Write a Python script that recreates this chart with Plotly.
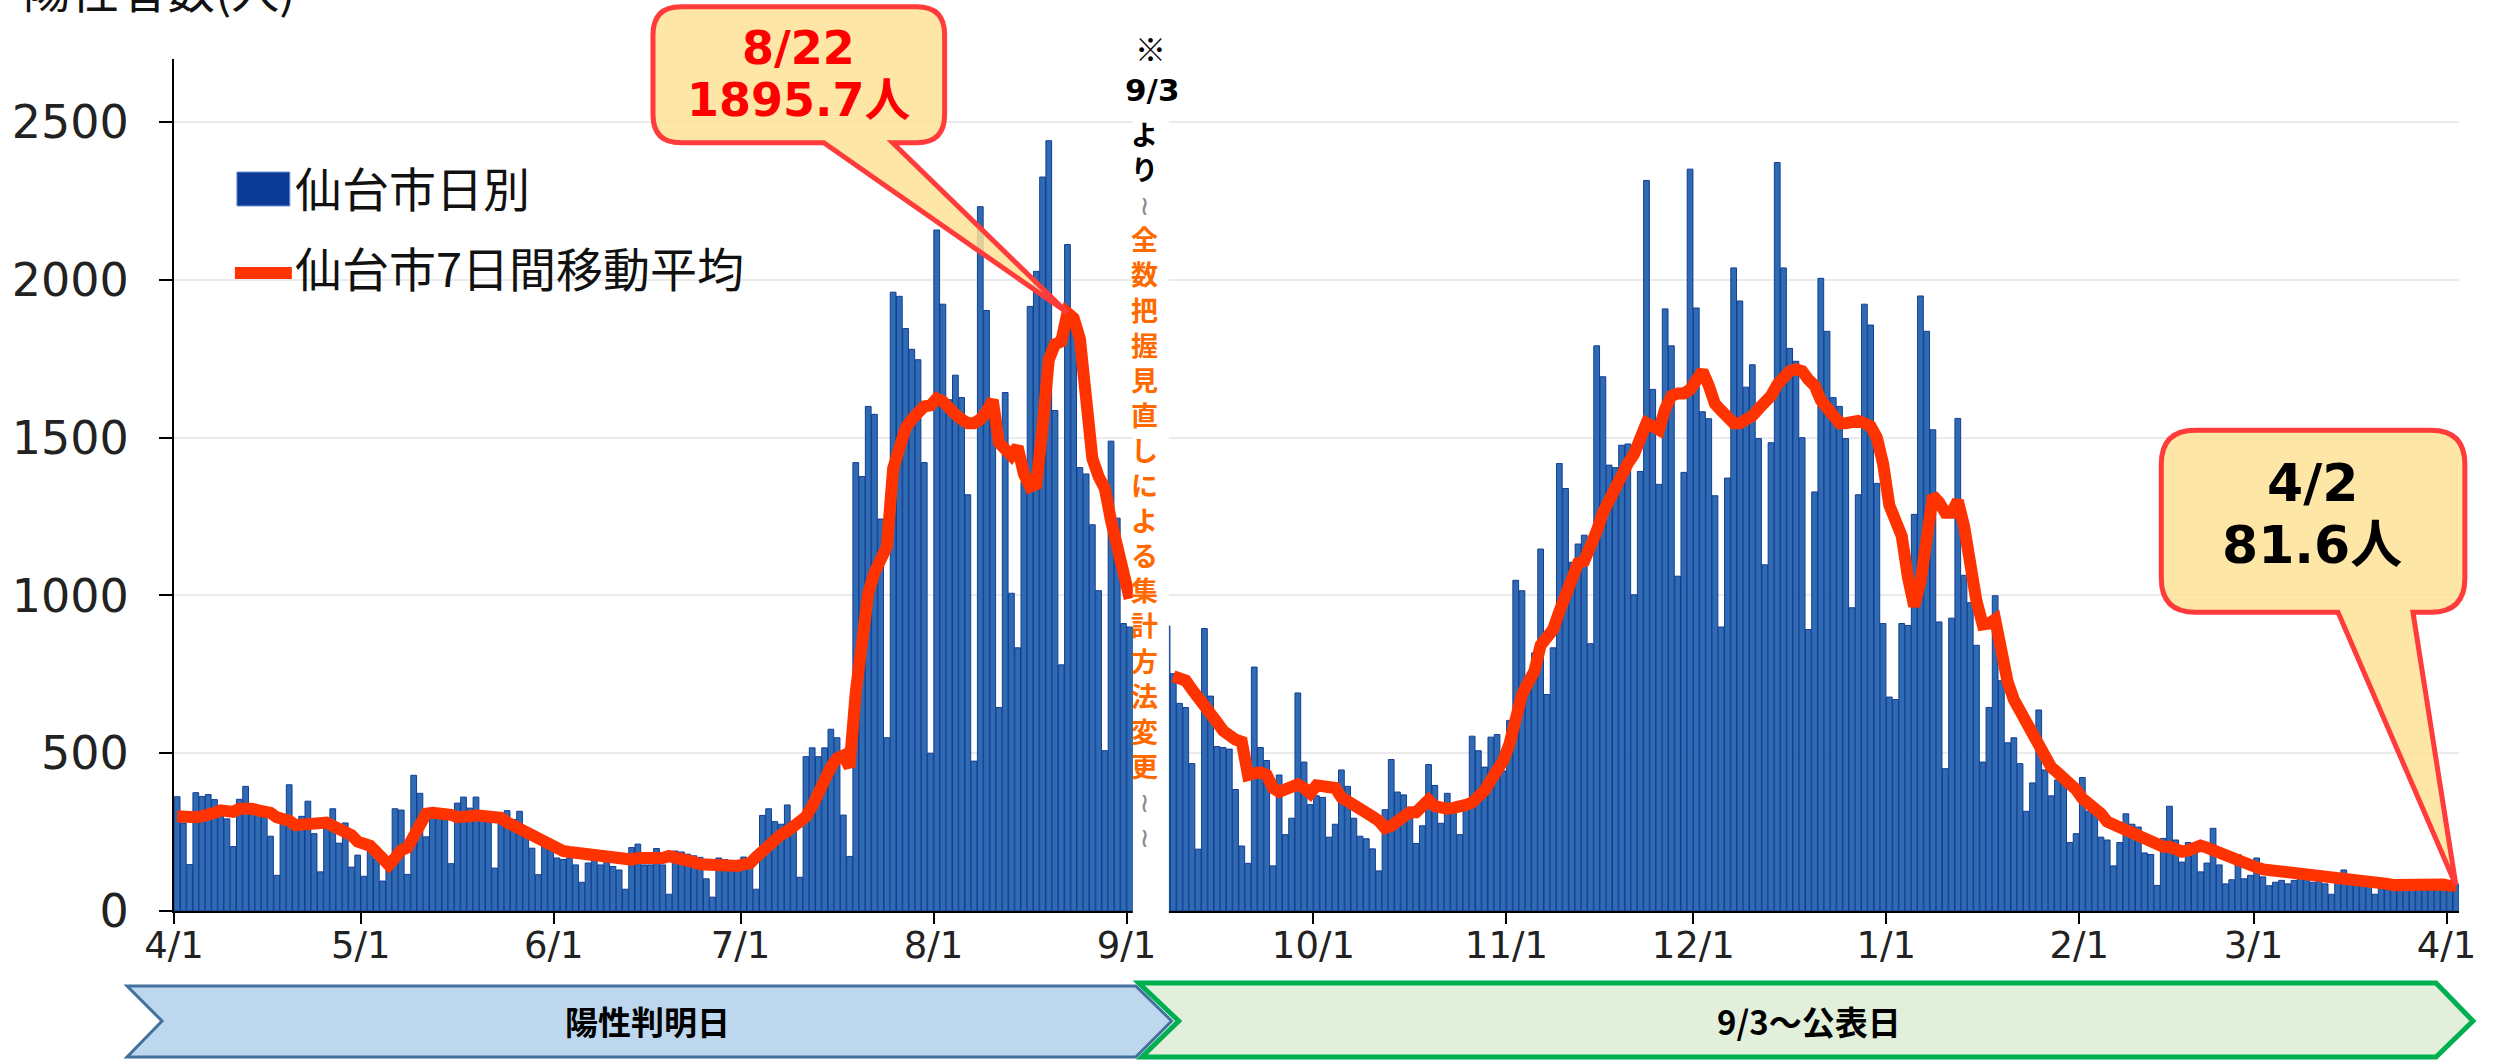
import pandas as pd
import plotly.graph_objects as go

# ---------------- data ----------------
left_start = "2022-04-01"          # 陽性判明日 basis (4/1 .. 9/1)
left_daily = [
    362, 279, 147, 375, 363, 369, 353, 300, 292, 204, 354, 395, 320, 312, 298, 237, 113, 305, 400, 275,
    300, 348, 245, 124, 283, 324, 215, 279, 139, 177,
    110, 196, 165, 95, 145, 324, 320, 116, 430, 373, 235, 303, 294, 291, 150, 342, 361, 326, 361, 305,
    300, 136, 300, 318, 290, 316, 256, 199, 115, 209, 207,
    168, 163, 168, 146, 91, 152, 193, 146, 187, 141, 130, 69, 201, 212, 146, 146, 198, 146, 53, 190,
    187, 180, 175, 170, 102, 44, 168, 163, 155, 160,
    171, 160, 69, 303, 324, 283, 275, 336, 275, 107, 489, 517, 489, 517, 576, 549, 304, 173, 1421, 1377,
    1599, 1574, 1242, 549, 1961, 1948, 1846, 1780, 1747, 1421, 500,
    2158, 1923, 1620, 1698, 1627, 1319, 475, 2232, 1903, 1620, 645, 1643, 1007, 834, 1360, 1916, 2027, 2326, 2441, 1586,
    780, 2112, 1870, 1405, 1385, 1224, 1015, 508, 1489, 1245, 911,
    900,
]
left_ma = [
    300, 297, 295, 297, 300, 303, 311, 319, 316, 314, 324, 327, 324, 319, 316, 311, 297, 295, 286, 272,
    272, 278, 281, 281, 280, 270, 259, 256, 240, 220,
    212, 207, 187, 163, 146, 168, 193, 201, 240, 272, 308, 311, 311, 314, 305, 297, 295, 300, 303, 303,
    303, 303, 295, 281, 270, 264, 256, 245, 234, 220, 207,
    196, 190, 187, 185, 179, 176, 174, 170, 168, 168, 165, 160, 163, 168, 168, 165, 163, 168, 174, 171,
    165, 164, 155, 148, 146, 145, 141, 140, 140, 143,
    148, 151, 171, 192, 209, 230, 242, 253, 266, 275, 299, 332, 365, 415, 456, 484, 493, 456, 694, 892,
    1007, 1072, 1114, 1155, 1402, 1484, 1530, 1558, 1579, 1599, 1602,
    1624, 1615, 1587, 1574, 1558, 1546, 1546, 1558, 1582, 1619, 1484, 1459, 1443, 1471, 1385, 1344, 1352, 1533, 1747, 1796,
    1805, 1895.7, 1879, 1813, 1632, 1434, 1377, 1339, 1237, 1147, 1081,
    990,
]

right_bar_start = "2022-09-07"     # 公表日 basis (from 9/3; visible from 9/7)
right_daily = [
    903, 752, 658, 645, 467, 196, 895, 681, 521, 518, 513, 385, 206, 151, 773, 518, 477, 143, 431, 242,
    294, 691, 472, 337,
    365, 360, 234, 275, 447, 395, 294, 237, 229, 197, 127, 321, 480, 377, 368, 313, 214, 270, 464, 398,
    278, 373, 340, 242, 324, 554, 508, 456, 551, 559, 444,
    604, 1048, 1015, 735, 818, 1147, 686, 834, 1418, 1339, 1105, 1163, 1191, 847, 1791, 1693, 1413, 1405, 1476, 1480,
    1002, 1393, 2315, 1653, 1352, 1908, 1791, 1061, 1390, 2351,
    1911, 1582, 1560, 1316, 900, 1372, 2038, 1933, 1660, 1731, 1497, 1097, 1484, 2372, 2038, 1783, 1742, 1500, 892, 1328,
    2005, 1837, 1627, 1599, 1497, 961, 1319, 1923, 1857, 1355, 911,
    678, 670, 911, 905, 1257, 1949, 1837, 1525, 916, 451, 928, 1561, 1064, 977, 842, 472, 645, 999, 730, 533,
    549, 467, 316, 406, 637, 447, 365, 415, 406, 217, 245,
    423, 316, 308, 234, 225, 143, 217, 308, 275, 266, 184, 179, 81, 230, 332, 225, 155, 217, 212, 124,
    152, 262, 146, 86, 99, 179, 102, 113,
    168, 108, 80, 91, 97, 86, 97, 119, 102, 91, 97, 86, 53, 97, 130, 108, 86, 88, 77, 53,
    80, 69, 75, 91, 88, 80, 77, 86, 97, 88, 75,
    75, 86,
]
right_ma_start = "2022-09-08"
right_ma = [
    744, 739, 730, 702, 678, 658, 628, 599, 571, 554, 543, 536, 431, 436, 439, 431, 390, 378, 388, 401,
    401, 390, 373,
    398, 395, 395, 390, 360, 349, 341, 329, 313, 299, 286, 263, 270, 283, 299, 313, 313, 336, 352, 332,
    324, 324, 327, 329, 336, 344, 360, 382, 415, 447, 477,
    530, 620, 686, 724, 760, 842, 867, 892, 949, 1007, 1073, 1102, 1109, 1147, 1204, 1262, 1303, 1352, 1393, 1418,
    1448, 1500, 1546, 1536, 1525, 1591, 1632, 1640, 1640, 1652,
    1689, 1711, 1665, 1607, 1586, 1569, 1546, 1546, 1556, 1569, 1591, 1612, 1632, 1668, 1693, 1711, 1717, 1711, 1684, 1665,
    1619, 1591, 1569, 1546, 1546, 1553, 1553, 1546, 1536, 1500, 1418,
    1286, 1237, 1188, 1056, 966, 1043, 1221, 1316, 1295, 1262, 1262, 1300, 1221, 1089, 982, 908, 911, 924, 801, 727,
    670, 632, 604, 571, 513, 477, 456, 439, 423, 406, 385,
    357, 341, 329, 308, 283, 275, 263, 253, 245, 242, 225, 217, 209, 204, 204, 197, 188, 192, 201, 207,
    201, 193, 179, 168, 163, 159, 154, 146,
    138, 132, 130, 130, 127, 124, 119, 115, 112, 110, 108, 106, 106, 104, 104, 102, 100, 99, 99, 97,
    91, 86, 82, 82, 84, 86, 88, 89, 91, 88, 84,
    80, 81.6,
]

tick_dates = ["2022-04-01", "2022-05-01", "2022-06-01", "2022-07-01", "2022-08-01", "2022-09-01",
              "2022-10-01", "2022-11-01", "2022-12-01", "2023-01-01", "2023-02-01", "2023-03-01", "2023-04-01"]
tick_labels = ["4/1", "5/1", "6/1", "7/1", "8/1", "9/1", "10/1", "11/1", "12/1", "1/1", "2/1", "3/1", "4/1"]
y_ticks = [0, 500, 1000, 1500, 2000, 2500]

legend_bar = "仙台市日別"
legend_line = "仙台市7日間移動平均"
y_title = "陽性者数(人)"
note_mark = "※"
note_date = "9/3"
note_yori = "より"
note_body = "全数把握見直しによる集計方法変更"
band_left = "陽性判明日"
band_right = "9/3～公表日"

# ---------------- helpers ----------------
X_START = pd.Timestamp("2022-04-01")
X_END = pd.Timestamp("2023-04-03")
Y_MAX = 2700
FIG_W, FIG_H = 2497, 1060
M_L, M_R, M_T, M_B = 171, 38, 59, 149
PW = FIG_W - M_L - M_R
PH = FIG_H - M_T - M_B
HALF_DAY = pd.Timedelta(hours=12)


def days(start, n):
    return pd.date_range(start, periods=n, freq="D")


def xfrac(ts):
    return (ts - X_START) / (X_END - X_START)


def PX(x):
    return (x - M_L) / PW


def PY(y):
    return (FIG_H - M_B - y) / PH


lb_dates = days(left_start, len(left_daily))
rb_dates = days(right_bar_start, len(right_daily))
lm_dates = days(left_start, len(left_ma))
rm_dates = days(right_ma_start, len(right_ma))

BAR_COLOR = "#2E6BB3"
BAR_EDGE = "#143C93"
LINE_COLOR = "#FF3300"

fig = go.Figure()
fig.add_trace(go.Bar(x=list(lb_dates + HALF_DAY), y=left_daily, marker=dict(color=BAR_COLOR, line=dict(color=BAR_EDGE, width=1))))
fig.add_trace(go.Bar(x=list(rb_dates + HALF_DAY), y=right_daily, marker=dict(color=BAR_COLOR, line=dict(color=BAR_EDGE, width=1))))
fig.add_trace(go.Scatter(x=list(lm_dates + HALF_DAY), y=left_ma, mode="lines", line=dict(color=LINE_COLOR, width=12)))
fig.add_trace(go.Scatter(x=list(rm_dates + HALF_DAY), y=right_ma, mode="lines", line=dict(color=LINE_COLOR, width=12)))

shapes = []
annotations = []

# white strip hiding the switch-over gap
gap_x0 = xfrac(pd.Timestamp("2022-09-02"))
gap_x1 = xfrac(pd.Timestamp("2022-09-07T19:00"))
shapes.append(dict(type="rect", xref="paper", yref="paper", x0=gap_x0, x1=gap_x1, y0=-0.006, y1=1.0,
                   fillcolor="white", line=dict(width=0), layer="above"))

# legend (drawn manually)
shapes.append(dict(type="rect", xref="paper", yref="paper", x0=PX(234), x1=PX(287), y0=PY(206), y1=PY(172),
                   fillcolor="#0A3A96", line=dict(color="#6F95D6", width=1), layer="above"))
shapes.append(dict(type="line", xref="paper", yref="paper", x0=PX(232), x1=PX(289), y0=PY(273), y1=PY(273),
                   line=dict(color=LINE_COLOR, width=12), layer="above"))
annotations.append(dict(xref="paper", yref="paper", x=PX(290), y=PY(186), xanchor="left", yanchor="middle",
                        text=legend_bar, showarrow=False,
                        font=dict(family="Noto Sans CJK JP", size=47, color="#111111")))
annotations.append(dict(xref="paper", yref="paper", x=PX(290), y=PY(266), xanchor="left", yanchor="middle",
                        text=legend_line, showarrow=False,
                        font=dict(family="Noto Sans CJK JP", size=47, color="#111111")))

# y-axis title (cut by the top edge as in the reference)
annotations.append(dict(xref="paper", yref="paper", x=PX(18), y=PY(-13), xanchor="left", yanchor="middle",
                        text=y_title, showarrow=False,
                        font=dict(family="Noto Sans CJK JP", size=48, color="#111111")))


def callout(tx, ty, left, right, top, bottom, t1, t2, r):
    def P(dx, dy):
        return f"{tx + dx / PW:.6f},{ty + dy / PH:.6f}"
    return (f"M {P(left + r, top)} L {P(right - r, top)} Q {P(right, top)} {P(right, top - r)} "
            f"L {P(right, bottom + r)} Q {P(right, bottom)} {P(right - r, bottom)} "
            f"L {P(t2, bottom)} L {P(0, 0)} L {P(t1, bottom)} "
            f"L {P(left + r, bottom)} Q {P(left, bottom)} {P(left, bottom + r)} "
            f"L {P(left, top - r)} Q {P(left, top)} {P(left + r, top)} Z")


CALLOUT_FILL = "rgba(253,226,150,0.85)"
CALLOUT_EDGE = "#FF3B3B"

# peak callout (8/22)
pk = max(range(len(left_ma)), key=lambda i: left_ma[i])
pk_x = xfrac(lm_dates[pk] + HALF_DAY)
pk_y = left_ma[pk] / Y_MAX
shapes.append(dict(type="path", xref="paper", yref="paper",
                   path=callout(pk_x, pk_y, -415, -123, 306, 170, -244, -175, 28),
                   fillcolor=CALLOUT_FILL, line=dict(color=CALLOUT_EDGE, width=5), layer="above"))
pk_date = lm_dates[pk]
annotations.append(dict(xref="paper", yref="paper", x=pk_x - 269 / PW, y=pk_y + 265 / PH,
                        text=f"<b>{pk_date.month}/{pk_date.day}</b>", showarrow=False, xanchor="center", yanchor="middle",
                        font=dict(family="DejaVu Sans, Noto Sans CJK JP", size=46, color="#FF0000")))
annotations.append(dict(xref="paper", yref="paper", x=pk_x - 269 / PW, y=pk_y + 213 / PH,
                        text=f"<b>{left_ma[pk]:.1f}人</b>", showarrow=False, xanchor="center", yanchor="middle",
                        font=dict(family="DejaVu Sans, Noto Sans CJK JP", size=46, color="#FF0000")))

# latest callout (4/2)
ls_x = xfrac(rm_dates[-1] + HALF_DAY)
ls_y = right_ma[-1] / Y_MAX
shapes.append(dict(type="path", xref="paper", yref="paper",
                   path=callout(ls_x, ls_y, -295, 9, 455, 273, -118, -43, 34),
                   fillcolor=CALLOUT_FILL, line=dict(color=CALLOUT_EDGE, width=5), layer="above"))
ls_date = rm_dates[-1]
annotations.append(dict(xref="paper", yref="paper", x=ls_x - 144 / PW, y=ls_y + 402 / PH,
                        text=f"<b>{ls_date.month}/{ls_date.day}</b>", showarrow=False, xanchor="center", yanchor="middle",
                        font=dict(family="DejaVu Sans, Noto Sans CJK JP", size=52, color="#000000")))
annotations.append(dict(xref="paper", yref="paper", x=ls_x - 144 / PW, y=ls_y + 340 / PH,
                        text=f"<b>{right_ma[-1]:.1f}人</b>", showarrow=False, xanchor="center", yanchor="middle",
                        font=dict(family="DejaVu Sans, Noto Sans CJK JP", size=52, color="#000000")))

# vertical note in the gap
annotations.append(dict(xref="paper", yref="paper", x=PX(1149), y=PY(47), text=note_mark, showarrow=False,
                        xanchor="center", yanchor="middle",
                        font=dict(family="Noto Sans CJK JP", size=31, color="#000000")))
annotations.append(dict(xref="paper", yref="paper", x=PX(1150), y=PY(90), text=f"<b>{note_date}</b>", showarrow=False,
                        xanchor="center", yanchor="middle",
                        font=dict(family="DejaVu Sans", size=31, color="#000000")))
WAVE = "<span style='color:#8a8a8a'>≀</span>"
note_lines = [f"<span style='color:#000000'><b>{c}</b></span>" for c in note_yori] + [WAVE]
note_lines += [f"<b>{c}</b>" for c in note_body] + [WAVE, WAVE]
NOTE_SIZE = 27
n_lines = len(note_lines)
first_center = 133
block_center = first_center + (n_lines - 1) * NOTE_SIZE * 1.3 / 2
annotations.append(dict(xref="paper", yref="paper", x=PX(1143), y=PY(block_center), text="<br>".join(note_lines),
                        showarrow=False, xanchor="center", yanchor="middle", align="center",
                        font=dict(family="Noto Sans CJK JP, DejaVu Sans", size=NOTE_SIZE, color="#FF6A00")))

# bottom period bands (chevrons)
def poly(points):
    return "M " + " L ".join(f"{PX(x):.6f},{PY(y):.6f}" for x, y in points) + " Z"


shapes.append(dict(type="path", xref="paper", yref="paper",
                   path=poly([(1137, 983), (2436, 983), (2473, 1021), (2436, 1057), (1140, 1057), (1177, 1021)]),
                   fillcolor="#E2EFDA", line=dict(color="#00B050", width=5), layer="above"))
shapes.append(dict(type="path", xref="paper", yref="paper",
                   path=poly([(124, 986), (1134, 986), (1170, 1021), (1134, 1057), (124, 1057), (159, 1021)]),
                   fillcolor="#BDD7EE", line=dict(color="#41719C", width=3), layer="above"))
annotations.append(dict(xref="paper", yref="paper", x=PX(645), y=PY(1021), text=f"<b>{band_left}</b>",
                        showarrow=False, xanchor="center", yanchor="middle",
                        font=dict(family="Noto Sans CJK JP", size=33, color="#000000")))
annotations.append(dict(xref="paper", yref="paper", x=PX(1808), y=PY(1021), text=f"<b>{band_right}</b>",
                        showarrow=False, xanchor="center", yanchor="middle",
                        font=dict(family="Noto Sans CJK JP", size=33, color="#000000")))

fig.update_layout(
    width=FIG_W, height=FIG_H,
    margin=dict(l=M_L, r=M_R, t=M_T, b=M_B, pad=0),
    plot_bgcolor="white", paper_bgcolor="white",
    showlegend=False, bargap=0.08, barmode="overlay",
    shapes=shapes, annotations=annotations,
    xaxis=dict(type="date", range=[X_START, X_END], tickvals=tick_dates, ticktext=tick_labels,
               ticks="outside", ticklen=11, tickwidth=2, tickcolor="#000000",
               showline=True, linecolor="#000000", linewidth=2, showgrid=False, zeroline=False,
               tickfont=dict(family="DejaVu Sans", size=37, color="#222222"), ticklabelstandoff=-10),
    yaxis=dict(range=[0, Y_MAX], tickvals=y_ticks, ticks="outside", ticklen=13, tickwidth=2, tickcolor="#000000",
               showline=True, linecolor="#000000", linewidth=2, showgrid=True, gridcolor="#EBEBEB", gridwidth=2,
               zeroline=False, tickfont=dict(family="DejaVu Sans", size=46, color="#222222"), ticklabelstandoff=21),
)

fig.write_html("out.html", config={"displayModeBar": False},
               post_script="document.body.style.margin='0px';")
